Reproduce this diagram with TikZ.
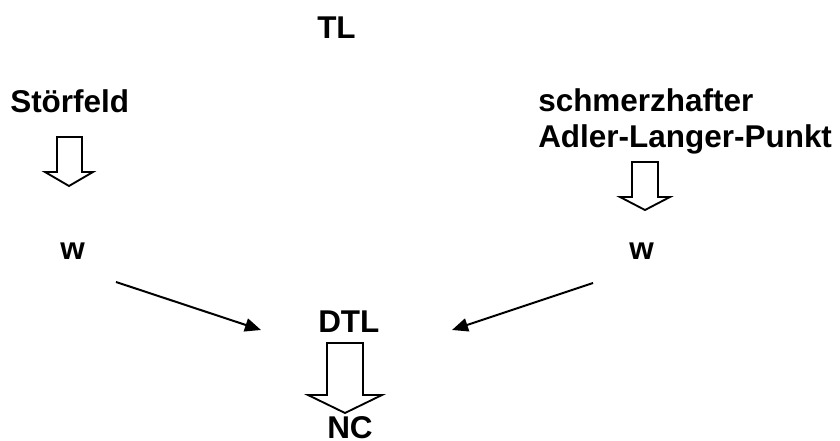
\documentclass[tikz,border=0pt]{standalone}
\usepackage{fontspec}
\setmainfont{Liberation Sans}
\usetikzlibrary{arrows.meta}
\tikzset{
  lbl/.style={font=\fontsize{23.6pt}{26pt}\selectfont\bfseries, inner sep=0pt, anchor=base west},
  conn/.style={line width=1.5pt, -{Triangle[length=12pt,width=10pt]}},
  blockarrow/.style={line width=1.4pt, line join=miter}
}
\begin{document}
\begin{tikzpicture}[x=0.75pt,y=-0.75pt]
\useasboundingbox (0,0) rectangle (840,441);
% labels
\node[lbl] (tl) at (317,39) {TL};
\node[lbl] (stoer) at (10,113) {Störfeld};
\node[lbl] (schm) at (538,112) {schmerzhafter};
\node[lbl] (adler) at (538,148) {Adler-Langer-Punkt};
\node[lbl] (wl) at (60,260) {w};
\node[lbl] (wr) at (629,260) {w};
\node[lbl] (dtl) at (318,333) {DTL};
\node[lbl] (nc) at (327,439) {NC};
% block arrows
\draw[blockarrow] (57,137) -- (82,137) -- (82,172) -- (93,172) -- (69,186) -- (45,172) -- (57,172) -- cycle;
\draw[blockarrow] (632,162) -- (658,162) -- (658,197) -- (670,197) -- (645,210) -- (620,197) -- (632,197) -- cycle;
\draw[blockarrow] (327,343) -- (363,343) -- (363,395) -- (382,395) -- (345,413) -- (308,395) -- (327,395) -- cycle;
% thin arrows
\coordinate (la1) at (116,282);
\coordinate (la2) at (261,330);
\coordinate (ra1) at (593,283);
\coordinate (ra2) at (452,330);
\draw[conn] (la1) -- (la2);
\draw[conn] (ra1) -- (ra2);
\end{tikzpicture}
\end{document}
